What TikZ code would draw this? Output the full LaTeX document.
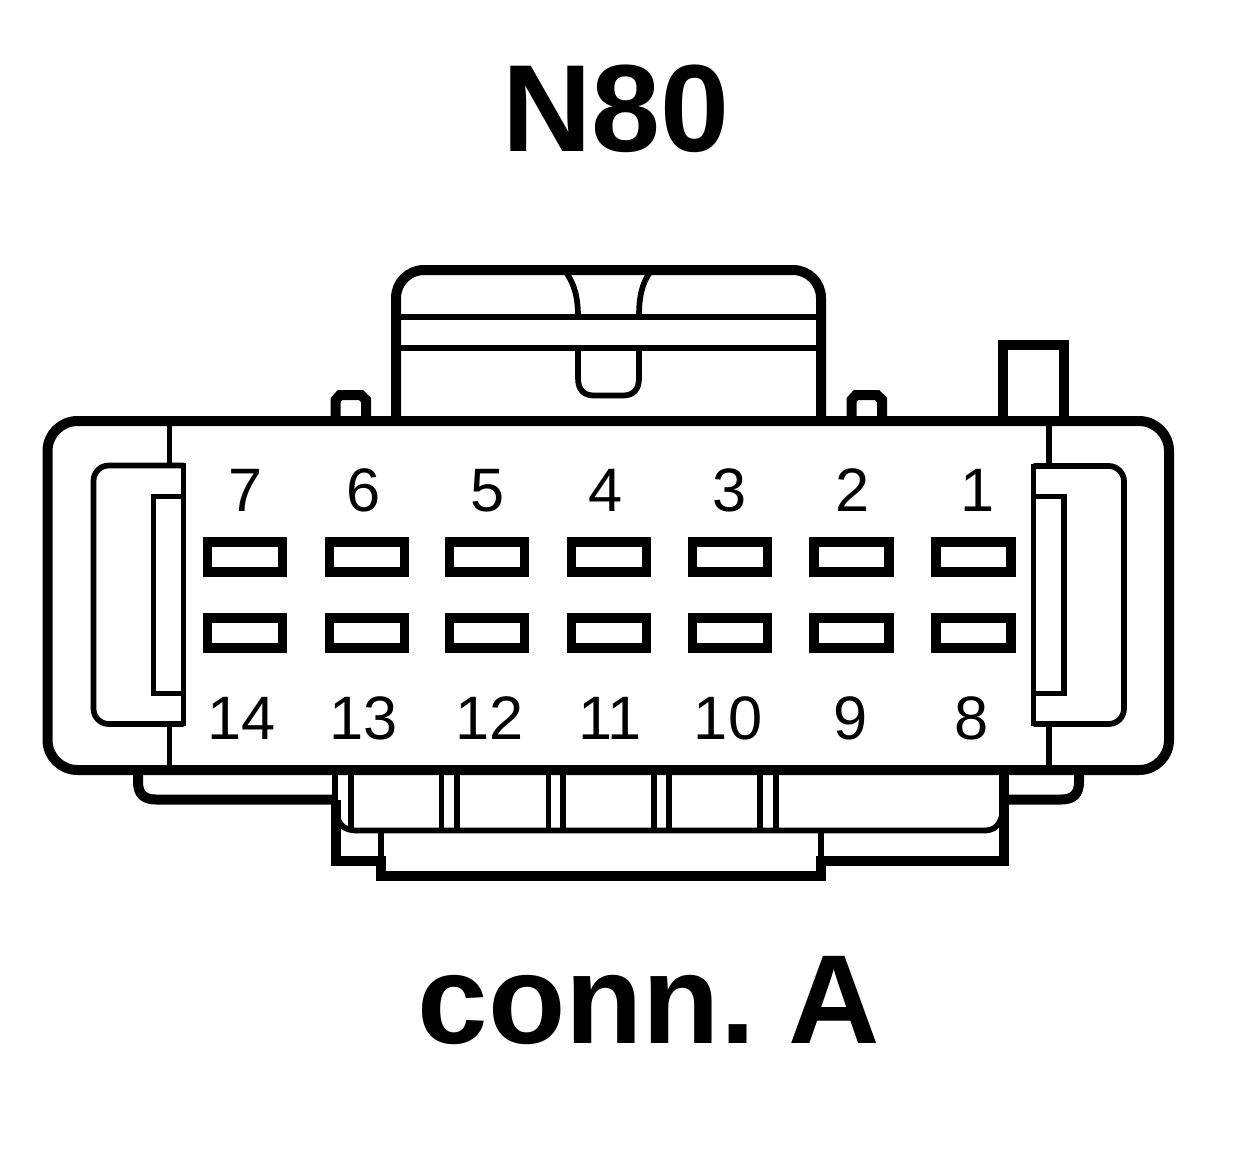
\documentclass[tikz,border=0pt]{standalone}
\usepackage{fontspec}
\setmainfont{Liberation Sans}
\tikzset{
  px/.style={x=0.75pt,y=-0.75pt},
  heavy/.style={draw=black,line width=7.5pt,line join=miter},
  lite/.style={draw=black,line width=4.3pt,line join=miter},
  pin/.style={draw=black,line width=7pt,line join=miter},
  digit/.style={inner sep=0pt,anchor=base,font=\fontsize{46}{46}\selectfont},
  title/.style={inner sep=0pt,anchor=base,font=\fontsize{93}{93}\selectfont\bfseries},
  subtitle/.style={inner sep=0pt,anchor=base,font=\fontsize{95}{95}\selectfont\bfseries}
}
\begin{document}
\begin{tikzpicture}[px]
\useasboundingbox (0,0) rectangle (1248,1150);
\fill[white] (0,0) rectangle (1248,1150);
% titles
\node[title] (ttl) at (616,151) {N80};
\node[subtitle] (sub) at (649,1043) {conn.\kern-10pt{} A};
% top housing
\draw[heavy,rounded corners=21pt] (396,421) -- (396,270) -- (821,270) -- (821,421);
\draw[lite] (396,317) -- (821,317) (396,348) -- (821,348);
\draw[lite] (566,272) .. controls (574,284) and (578,296) .. (578,317);
\draw[lite] (650,272) .. controls (642,284) and (639,296) .. (639,317);
\draw[lite] (578,348) -- (578,378) .. controls (578,390) and (584,395.5) .. (594,395.5) -- (623,395.5) .. controls (633,395.5) and (639,390) .. (639,378) -- (639,348);
% small tabs
\draw[heavy] (335.5,421) -- (335.5,400) -- (340,395) -- (361,395) -- (366,400) -- (366,421);
\draw[heavy] (851.5,421) -- (851.5,400) -- (856,395) -- (877,395) -- (882,400) -- (882,421);
% tall tab
\draw[heavy] (1003,421) -- (1003,345) -- (1064,345) -- (1064,421);
% main body
\draw[heavy,rounded corners=22.5pt] (600,421) -- (1169,421) -- (1169,770) -- (47.5,770) -- (47.5,421) -- cycle;
% body verticals
\draw[lite] (169.5,421) -- (169.5,465) (169.5,724) -- (169.5,770);
\draw[lite] (1049,421) -- (1049,466) (1049,724) -- (1049,770);
% left latch
\draw[lite,rounded corners=11.5pt] (183.5,465.5) -- (93.5,465.5) -- (93.5,724) -- (183.5,724);
\draw[lite] (183.5,463.4) -- (183.5,726.1);
\draw[lite] (183.5,496.5) -- (153.5,496.5) -- (153.5,693.5) -- (183.5,693.5);
% right latch
\draw[lite,rounded corners=11.5pt] (1033.5,466) -- (1124,466) -- (1124,724) -- (1033.5,724);
\draw[lite] (1033.5,463.9) -- (1033.5,726.1);
\draw[lite] (1033.5,496.5) -- (1064,496.5) -- (1064,693.5) -- (1033.5,693.5);
% pins
\foreach \cx in {245,367,487,609,730,851.5,973.5}{
  \draw[pin] (\cx-37.5,542) rectangle (\cx+37.5,572);
  \draw[pin] (\cx-37.5,618) rectangle (\cx+37.5,648);
}
% numbers
\node[digit] (p7) at (246,511) {7};
\node[digit] (p6) at (364,511) {6};
\node[digit] (p5) at (488,511) {5};
\node[digit] (p4) at (606,511) {4};
\node[digit] (p3) at (730,511) {3};
\node[digit] (p2) at (853,511) {2};
\node[digit] (p1) at (978,511) {1};
\node[digit] (p14) at (242,739) {14};
\node[digit] (p13) at (364,739) {13};
\node[digit] (p12) at (490,739) {12};
\node[digit] (p11) at (610,739) {1{}1};
\node[digit] (p10) at (728,739) {10};
\node[digit] (p9) at (851,739) {9};
\node[digit] (p8) at (972,739) {8};
% bottom brackets
\draw[heavy] (138,770) -- (138,782) .. controls (138,794) and (144,799.5) .. (156,799.5) -- (335,799.5);
\draw[heavy] (1079,770) -- (1079,782) .. controls (1079,794) and (1073,799.5) .. (1061,799.5) -- (1003,799.5);
% bottom housing
\draw[lite] (335,770) -- (335,805);
\draw[heavy] (335.5,800) -- (335.5,861) -- (381,861) -- (381,876) -- (821,876) -- (821,861) -- (1003.5,861) -- (1003.5,770);
\draw[lite] (381,830) -- (381,862) (821,830) -- (821,862);
\draw[lite] (336,812) .. controls (338,824) and (344,830.5) .. (356,830.5) -- (984,830.5) .. controls (994,830.5) and (1000,826) .. (1003,812);
\foreach \vx in {351,441.5,457,548.5,563,654,669,760,776}{
  \draw[lite] (\vx,770) -- (\vx,830.5);
}
\end{tikzpicture}
\end{document}
